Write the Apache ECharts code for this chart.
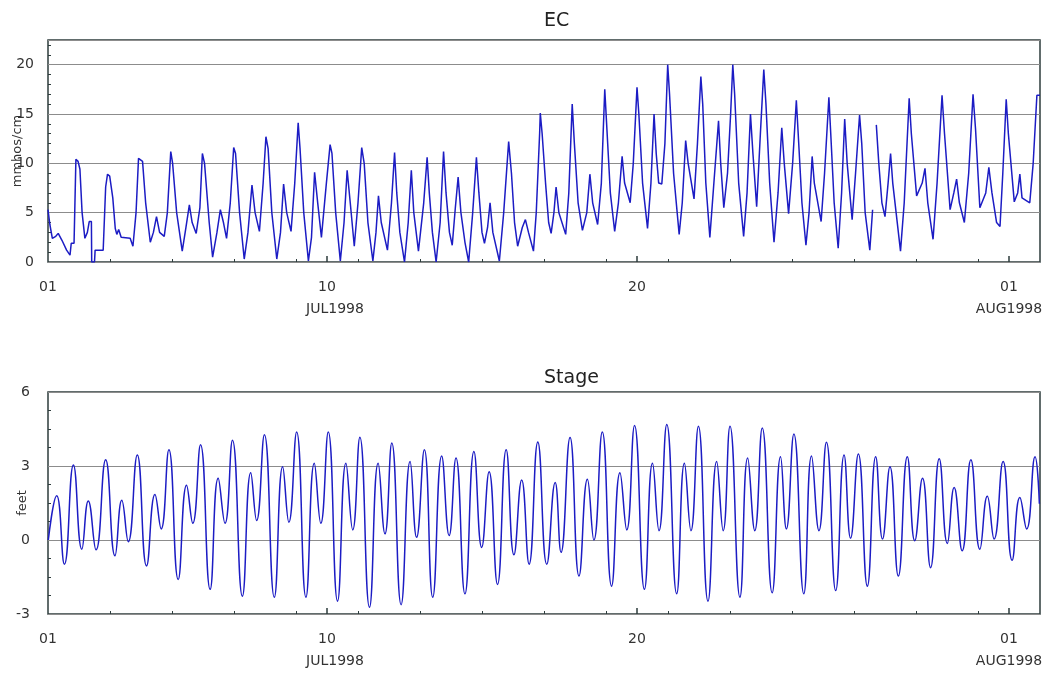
<!DOCTYPE html>
<html>
<head>
<meta charset="utf-8">
<script src="https://cdn.jsdelivr.net/npm/echarts@6/dist/echarts.min.js"></script>
<style>
html,body{margin:0;padding:0;background:#fff;}
#chart{width:1049px;height:673px;}
</style>
</head>
<body>
<div id="chart"></div>
<script>
// Time is in days since 01 JUL1998 00:00
const xMaxDays = 32;
const dateLabelDays = [0, 9, 19, 31];
const dateLabelText = ['01', '10\nJUL1998', '20', '01\nAUG1998'];
const minorDayTicks = [2,4,6,8,10,12,14,16,18,20,22,24,26,28,30];
const majorDayTicks = [9, 19, 31];

const ecTickLabels = [0, 5, 10, 15, 20];
const stageTickLabels = [-3, 0, 3, 6];

// EC (mmhos/cm) turning points
const ecDays = [0.00,0.06,0.14,0.25,0.33,0.45,0.60,0.71,0.75,0.84,0.90,0.97,1.03,1.10,1.19,1.27,1.33,1.40,1.41,1.50,1.52,1.78,1.86,1.92,1.99,2.09,2.17,2.22,2.28,2.36,2.65,2.74,2.84,2.92,3.05,3.15,3.30,3.40,3.50,3.60,3.75,3.85,3.96,4.02,4.15,4.33,4.45,4.56,4.65,4.78,4.90,4.98,5.05,5.20,5.31,5.45,5.56,5.66,5.76,5.88,5.99,6.05,6.18,6.33,6.45,6.58,6.68,6.82,6.94,7.03,7.10,7.22,7.38,7.50,7.60,7.70,7.84,7.96,8.07,8.13,8.25,8.40,8.50,8.60,8.70,8.82,8.98,9.10,9.16,9.28,9.43,9.55,9.65,9.75,9.88,10.00,10.12,10.20,10.32,10.48,10.58,10.66,10.75,10.95,11.08,11.18,11.25,11.35,11.50,11.62,11.72,11.80,11.95,12.12,12.23,12.30,12.40,12.52,12.65,12.76,12.84,12.95,13.04,13.14,13.23,13.32,13.45,13.57,13.70,13.82,13.90,14.00,14.08,14.18,14.26,14.35,14.56,14.70,14.86,14.95,15.05,15.15,15.30,15.40,15.50,15.66,15.75,15.86,15.88,15.94,16.05,16.15,16.23,16.32,16.39,16.48,16.70,16.80,16.91,16.98,17.10,17.24,17.38,17.48,17.57,17.73,17.85,17.96,18.02,18.14,18.28,18.40,18.52,18.60,18.78,18.88,19.00,19.06,19.18,19.34,19.45,19.55,19.62,19.70,19.80,19.90,19.99,20.05,20.18,20.36,20.46,20.57,20.65,20.84,20.95,21.06,21.12,21.22,21.35,21.48,21.63,21.70,21.80,21.92,22.02,22.09,22.15,22.28,22.44,22.55,22.66,22.74,22.86,22.98,23.09,23.16,23.28,23.42,23.55,23.67,23.75,23.89,24.02,24.14,24.20,24.32,24.45,24.55,24.65,24.72,24.94,25.05,25.19,25.25,25.36,25.49,25.60,25.70,25.78,25.94,26.05,26.18,26.25,26.36,26.51,26.60,26.66,26.72,26.80,26.90,27.00,27.10,27.18,27.25,27.50,27.62,27.78,27.85,28.02,28.20,28.29,28.38,28.55,28.68,28.84,28.92,29.10,29.22,29.31,29.40,29.56,29.70,29.84,29.92,30.06,30.25,30.35,30.45,30.60,30.71,30.80,30.91,30.98,31.17,31.28,31.35,31.42,31.67,31.78,31.90,32.00];
const ecValues = [5.3,3.8,2.4,2.6,2.9,2.2,1.2,0.7,1.9,1.9,10.4,10.2,9.4,5.0,2.4,3.0,4.1,4.1,0,0,1.2,1.2,7.6,8.9,8.7,6.5,3.4,2.8,3.3,2.5,2.4,1.6,5.0,10.5,10.2,6.0,2.0,3.0,4.6,3.0,2.6,5.0,11.2,10.0,5.0,1.1,3.5,5.8,4.0,2.9,5.5,11.0,10.0,4.0,0.5,3.0,5.3,4.0,2.4,6.0,11.6,11.0,5.0,0.3,3.0,7.8,5.0,3.1,8.0,12.7,11.5,5.0,0.3,3.0,7.9,5.0,3.1,8.0,14.1,11.5,5.0,0.1,2.5,9.1,6.0,2.5,8.0,11.9,11.0,5.0,0.1,4.0,9.3,6.0,1.6,6.0,11.6,10.0,4.0,0.1,3.0,6.7,4.0,1.2,6.0,11.1,7.0,3.0,0,4.0,9.3,5.0,1.1,6.0,10.6,7.0,3.0,0,4.0,11.2,7.0,3.0,1.7,5.5,8.6,5.0,2.0,0,5.0,10.6,7.0,3.0,1.9,3.5,6.0,3.0,0.1,5.0,12.2,9.0,4.0,1.6,3.5,4.3,3.0,1.1,5.0,13.1,15.1,13.0,8.0,4.0,2.9,5.0,7.6,5.0,2.8,7.0,16.0,12.0,6.0,3.2,5.0,8.9,6.0,3.8,8.0,17.5,14.0,7.0,3.1,6.0,10.7,8.0,6.0,10.0,17.7,15.0,8.0,3.4,8.0,15.0,11.0,8.0,7.9,12.0,20.0,17.0,9.0,2.8,6.0,12.3,10.0,6.4,12.0,18.8,16.0,8.0,2.5,8.0,14.3,10.0,5.5,9.0,15.0,20.0,17.0,8.0,2.6,7.0,15.0,11.0,5.6,13.0,19.5,16.0,8.0,2.0,7.0,13.6,10.0,4.9,10.0,16.4,13.0,6.0,1.7,5.0,10.7,8.0,4.1,9.0,16.7,13.0,6.0,1.4,7.0,14.5,10.0,4.3,9.0,14.9,12.0,5.0,1.2,5.3,null,13.9,10.0,6.0,4.6,8.0,11.0,8.0,1.1,6.0,16.6,13.0,6.7,8.0,9.5,6.0,2.3,8.0,16.9,13.0,5.3,7.0,8.4,6.0,4.0,9.0,17.0,13.5,5.5,7.0,9.6,7.0,4.0,3.6,9.0,16.5,13.0,6.1,7.0,8.9,6.5,6.0,10.0,16.9,16.9];

// Stage (feet) turning points
const stageDays = [0.01,0.28,0.53,0.82,1.09,1.30,1.55,1.86,2.16,2.38,2.59,2.88,3.18,3.45,3.65,3.90,4.20,4.47,4.67,4.92,5.23,5.49,5.71,5.95,6.27,6.54,6.73,6.98,7.30,7.57,7.77,8.02,8.32,8.59,8.80,9.04,9.34,9.61,9.83,10.06,10.37,10.65,10.87,11.09,11.39,11.68,11.89,12.14,12.41,12.70,12.94,13.16,13.45,13.74,13.99,14.23,14.50,14.78,15.03,15.28,15.52,15.80,16.09,16.36,16.55,16.84,17.13,17.40,17.61,17.88,18.18,18.45,18.67,18.92,19.24,19.50,19.71,19.96,20.28,20.53,20.74,20.98,21.29,21.57,21.78,22.00,22.32,22.57,22.80,23.04,23.36,23.63,23.82,24.06,24.38,24.63,24.87,25.11,25.41,25.68,25.89,26.14,26.43,26.70,26.92,27.16,27.43,27.72,27.96,28.21,28.47,28.75,29.01,29.23,29.49,29.77,30.06,30.30,30.52,30.81,31.10,31.35,31.57,31.84,31.98];
const stageFeet = [0.0,1.79,-0.98,3.04,-0.37,1.58,-0.40,3.25,-0.64,1.61,-0.07,3.45,-1.05,1.84,0.45,3.66,-1.60,2.22,0.68,3.86,-2.00,2.50,0.68,4.04,-2.28,2.73,0.79,4.27,-2.32,2.97,0.72,4.38,-2.32,3.11,0.68,4.38,-2.48,3.11,0.41,4.17,-2.73,3.11,0.25,3.93,-2.62,3.18,0.11,3.66,-2.32,3.41,0.18,3.32,-2.18,3.59,-0.30,2.77,-1.80,3.66,-0.60,2.43,-0.98,3.97,-0.98,2.33,-0.50,4.16,-1.46,2.46,0.00,4.38,-1.87,2.73,0.41,4.64,-2.00,3.11,0.38,4.68,-2.18,3.11,0.38,4.61,-2.48,3.18,0.38,4.61,-2.32,3.32,0.38,4.54,-2.14,3.38,0.45,4.30,-2.18,3.41,0.38,3.96,-2.05,3.45,0.07,3.49,-1.87,3.38,0.04,2.97,-1.46,3.38,-0.03,2.50,-1.12,3.29,-0.14,2.13,-0.44,3.25,-0.37,1.77,0.04,3.18,-0.82,1.72,0.45,3.38,1.47];

const ecData = ecDays.map((d, i) => [d, ecValues[i] === null ? '-' : ecValues[i]]);
const stageData = stageDays.map((d, i) => [d, stageFeet[i]]);

const FONT = 'DejaVu Sans';
const FRAME = '#2e3d3d';
const GRIDC = '#8c8c8c';
const LINEC = '#1c1cc4';

function ecMinor() { const a = []; for (let v = 1; v < 22.5; v++) if (v % 5) a.push(v); return a; }
const stageMinor = [-2.25,-1.5,-0.75,0.75,1.5,2.25,3.75,4.5,5.25];

function xAxes(gi) {
  return [{
    gridIndex: gi, type: 'value', min: 0, max: xMaxDays, position: 'bottom',
    axisLine: {show: false, onZero: false}, splitLine: {show: false},
    axisTick: {show: true, inside: true, length: 6, customValues: majorDayTicks, lineStyle: {color: FRAME, width: 1.5}},
    axisLabel: {
      customValues: dateLabelDays, margin: 14, color: '#333', fontFamily: FONT, fontSize: 14,
      lineHeight: 22, verticalAlign: 'top',
      formatter: function (v) {
        const i = dateLabelDays.indexOf(v);
        const t = dateLabelText[i] || '';
        if (t.indexOf('JUL') >= 0) { const p = t.split('\n'); return p[0] + '\n{s|' + p[1] + '}'; }
        return t;
      },
      rich: {s: {fontFamily: FONT, fontSize: 14, color: '#333', lineHeight: 22, padding: [0, 0, 0, 16]}}
    }
  }, {
    gridIndex: gi, type: 'value', min: 0, max: xMaxDays, position: 'bottom',
    axisLine: {show: false, onZero: false}, splitLine: {show: false}, axisLabel: {show: false},
    axisTick: {show: true, inside: true, length: 3, customValues: minorDayTicks, lineStyle: {color: FRAME, width: 1}}
  }];
}

const chart = echarts.init(document.getElementById('chart'), null, {renderer: 'canvas'});
chart.setOption({
  animation: false,
  backgroundColor: '#fff',
  graphic: [
    {type: 'text', left: 544, top: 12, style: {text: 'EC', x: 0, y: 0, fill: '#222', font: '19px "DejaVu Sans"', textAlign: 'center'}},
    {type: 'text', left: 544, top: 369, style: {text: 'Stage', x: 0, y: 0, fill: '#222', font: '19px "DejaVu Sans"', textAlign: 'center'}}
  ],
  grid: [
    {left: 48, top: 40, width: 992, height: 222, show: true, borderColor: FRAME, borderWidth: 1.5, backgroundColor: 'transparent', containLabel: false, outerBoundsMode: 'none'},
    {left: 48, top: 392, width: 992, height: 222, show: true, borderColor: FRAME, borderWidth: 1.5, backgroundColor: 'transparent', containLabel: false, outerBoundsMode: 'none'}
  ],
  xAxis: xAxes(0).concat(xAxes(1)),
  yAxis: [
    {gridIndex: 0, type: 'value', min: 0, max: 22.5, interval: 5, position: 'left',
     axisLine: {show: false, onZero: false}, axisTick: {show: false},
     axisLabel: {customValues: ecTickLabels, color: '#333', fontFamily: FONT, fontSize: 14, margin: 14},
     splitLine: {show: true, lineStyle: {color: GRIDC, width: 1}},
     name: 'mmhos/cm', nameLocation: 'middle', nameGap: 24, nameRotate: 90, nameMoveOverlap: false,
     nameTextStyle: {color: '#333', fontFamily: FONT, fontSize: 13}},
    {gridIndex: 0, type: 'value', min: 0, max: 22.5, position: 'left',
     axisLine: {show: false, onZero: false}, axisLabel: {show: false}, splitLine: {show: false},
     axisTick: {show: true, inside: true, length: 3, customValues: ecMinor(), lineStyle: {color: FRAME}}},
    {gridIndex: 1, type: 'value', min: -3, max: 6, interval: 3, position: 'left',
     axisLine: {show: false, onZero: false}, axisTick: {show: false},
     axisLabel: {customValues: stageTickLabels, color: '#333', fontFamily: FONT, fontSize: 14, margin: 18},
     splitLine: {show: true, lineStyle: {color: GRIDC, width: 1}},
     name: 'feet', nameLocation: 'middle', nameGap: 19, nameRotate: 90, nameMoveOverlap: false,
     nameTextStyle: {color: '#333', fontFamily: FONT, fontSize: 13}},
    {gridIndex: 1, type: 'value', min: -3, max: 6, position: 'left',
     axisLine: {show: false, onZero: false}, axisLabel: {show: false}, splitLine: {show: false},
     axisTick: {show: true, inside: true, length: 3, customValues: stageMinor, lineStyle: {color: FRAME}}}
  ],
  series: [
    {name: 'EC', type: 'line', xAxisIndex: 0, yAxisIndex: 0, data: ecData, showSymbol: false, symbol: 'none',
     connectNulls: false, lineStyle: {color: LINEC, width: 1.5}, z: 3},
    {name: 'Stage', type: 'line', xAxisIndex: 2, yAxisIndex: 2, data: stageData, showSymbol: false, symbol: 'none',
     smooth: 0.5, lineStyle: {color: LINEC, width: 1.5}, z: 3}
  ]
});
</script>
</body>
</html>
